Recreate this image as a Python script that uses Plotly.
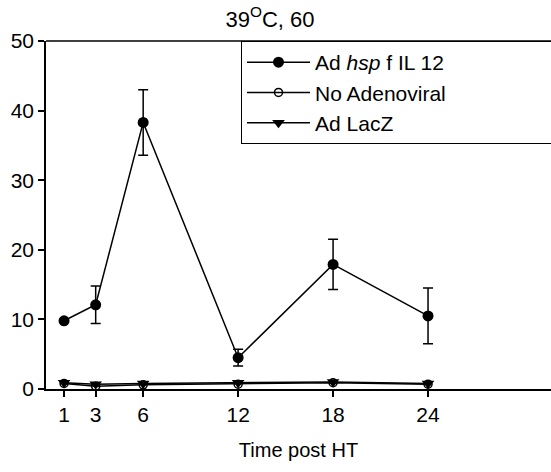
import plotly.graph_objects as go

time_h = [1, 3, 6, 12, 18, 24]
hsp_il12 = [9.8, 12.1, 38.3, 4.5, 17.9, 10.5]
hsp_il12_err = [0.2, 2.7, 4.7, 1.2, 3.6, 4.0]
no_adeno = [0.8, 0.4, 0.6, 0.7, 0.9, 0.7]
lacz = [0.9, 0.7, 0.8, 0.9, 1.0, 0.8]
x_ticks = [1, 3, 6, 12, 18, 24]
y_ticks = [0, 10, 20, 30, 40, 50]

FONT = "Arial, Liberation Sans, sans-serif"
PAD = "\u00a0" * 18  # widens the legend box towards the right edge, as in the original

fig = go.Figure()
fig.add_trace(go.Scatter(
    x=time_h, y=no_adeno, name="No Adenoviral" + PAD, mode="lines+markers",
    line=dict(color="black", width=1.5),
    marker=dict(symbol="circle-open", size=8, color="black", line=dict(width=1.5)),
    legendrank=2,
))
fig.add_trace(go.Scatter(
    x=time_h, y=lacz, name="Ad LacZ", mode="lines+markers",
    line=dict(color="black", width=1.5),
    marker=dict(symbol="triangle-down", size=11, color="black"),
    legendrank=3,
))
fig.add_trace(go.Scatter(
    x=time_h, y=hsp_il12, name="Ad <i>hsp</i> f IL 12", mode="lines+markers",
    line=dict(color="black", width=1.5),
    marker=dict(symbol="circle", size=11, color="black"),
    error_y=dict(type="data", array=hsp_il12_err, visible=True,
                 color="black", thickness=1.5, width=5),
    legendrank=1,
))

fig.update_layout(
    width=551, height=472,
    margin=dict(l=46, r=0, t=41, b=83, autoexpand=False),
    paper_bgcolor="white", plot_bgcolor="white",
    font=dict(family=FONT, size=21, color="black"),
    title=dict(text="39<sup>O</sup>C, 60", x=270 / 551, xref="container", xanchor="center",
               y=1 - 19 / 472, yref="container", yanchor="middle",
               font=dict(family=FONT, size=22, color="black")),
    showlegend=True,
    legend=dict(x=(241 - 46) / 505, y=1, xanchor="left", yanchor="top",
                bgcolor="white", bordercolor="black", borderwidth=1,
                font=dict(family=FONT, size=21, color="black"),
                traceorder="normal", itemwidth=63),
    xaxis=dict(range=[-0.14, 31.77], tickvals=x_ticks, ticktext=[str(v) for v in x_ticks],
               showgrid=False, zeroline=False, showline=True, linecolor="black", linewidth=1.5,
               ticks="outside", ticklen=6, tickcolor="black", tickwidth=1.5,
               mirror=False,
               title=dict(text="Time post HT", font=dict(family=FONT, size=20), standoff=18),
               tickfont=dict(family=FONT, size=21)),
    yaxis=dict(range=[0, 50], tickvals=y_ticks, ticktext=[str(v) for v in y_ticks],
               showgrid=False, zeroline=False, showline=True, linecolor="black", linewidth=1.5,
               ticks="outside", ticklen=6, tickcolor="black", tickwidth=1.5,
               tickfont=dict(family=FONT, size=21)),
)
# top border line of the plotting frame
fig.add_shape(type="line", xref="paper", yref="paper", x0=0, x1=1, y0=1, y1=1,
              line=dict(color="black", width=1.5))

fig.write_html("out.html")
